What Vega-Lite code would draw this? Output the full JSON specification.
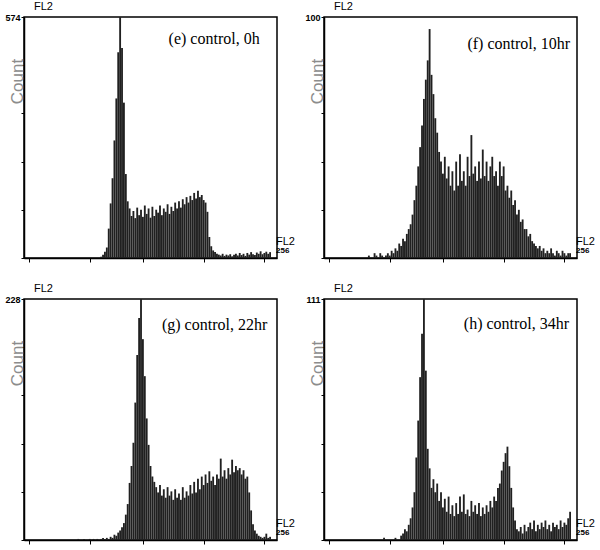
{
  "$schema": "https://vega.github.io/schema/vega-lite/v6.json",
  "background": "white",
  "padding": {"left": 4, "top": 0, "right": 3, "bottom": 0},
  "datasets": {
    "e": [
      {"c":76,"n":3},{"c":78,"n":8},{"c":80,"n":15},{"c":82,"n":25},{"c":84,"n":70},{"c":86,"n":130},{"c":88,"n":190},{"c":90,"n":280},{"c":92,"n":380},{"c":94,"n":490},{"c":96,"n":574},{"c":98,"n":500},{"c":100,"n":370},{"c":102,"n":200},{"c":104,"n":135},{"c":106,"n":118},{"c":108,"n":100},{"c":110,"n":112},{"c":112,"n":95},{"c":114,"n":120},{"c":116,"n":102},{"c":118,"n":115},{"c":120,"n":98},{"c":122,"n":125},{"c":124,"n":105},{"c":126,"n":118},{"c":128,"n":96},{"c":130,"n":122},{"c":132,"n":100},{"c":134,"n":115},{"c":136,"n":108},{"c":138,"n":125},{"c":140,"n":102},{"c":142,"n":118},{"c":144,"n":110},{"c":146,"n":128},{"c":148,"n":105},{"c":150,"n":122},{"c":152,"n":112},{"c":154,"n":132},{"c":156,"n":118},{"c":158,"n":135},{"c":160,"n":120},{"c":162,"n":140},{"c":164,"n":128},{"c":166,"n":145},{"c":168,"n":132},{"c":170,"n":148},{"c":172,"n":138},{"c":174,"n":155},{"c":176,"n":142},{"c":178,"n":160},{"c":180,"n":145},{"c":182,"n":150},{"c":184,"n":138},{"c":186,"n":132},{"c":188,"n":110},{"c":190,"n":50},{"c":192,"n":28},{"c":194,"n":18},{"c":196,"n":14},{"c":198,"n":10},{"c":200,"n":8},{"c":202,"n":6},{"c":204,"n":10},{"c":206,"n":5},{"c":208,"n":8},{"c":210,"n":6},{"c":212,"n":9},{"c":214,"n":4},{"c":216,"n":8},{"c":218,"n":10},{"c":220,"n":6},{"c":222,"n":12},{"c":224,"n":7},{"c":226,"n":10},{"c":228,"n":5},{"c":230,"n":12},{"c":232,"n":8},{"c":234,"n":14},{"c":236,"n":9},{"c":238,"n":7},{"c":240,"n":13},{"c":242,"n":10},{"c":244,"n":16},{"c":246,"n":9},{"c":248,"n":12},{"c":250,"n":15},{"c":252,"n":10},{"c":254,"n":14}
    ],
    "f": [
      {"c":42,"n":1},{"c":48,"n":2},{"c":50,"n":1},{"c":54,"n":2},{"c":56,"n":1},{"c":60,"n":1},{"c":62,"n":2},{"c":64,"n":1},{"c":66,"n":3},{"c":68,"n":2},{"c":70,"n":4},{"c":72,"n":3},{"c":74,"n":6},{"c":76,"n":5},{"c":78,"n":8},{"c":80,"n":7},{"c":82,"n":10},{"c":84,"n":12},{"c":86,"n":14},{"c":88,"n":18},{"c":90,"n":24},{"c":92,"n":30},{"c":94,"n":38},{"c":96,"n":46},{"c":98,"n":55},{"c":100,"n":66},{"c":102,"n":74},{"c":104,"n":82},{"c":106,"n":95},{"c":108,"n":76},{"c":110,"n":68},{"c":112,"n":58},{"c":114,"n":52},{"c":116,"n":44},{"c":118,"n":40},{"c":120,"n":35},{"c":122,"n":42},{"c":124,"n":33},{"c":126,"n":38},{"c":128,"n":30},{"c":130,"n":36},{"c":132,"n":28},{"c":134,"n":40},{"c":136,"n":30},{"c":138,"n":43},{"c":140,"n":32},{"c":142,"n":36},{"c":144,"n":30},{"c":146,"n":42},{"c":148,"n":34},{"c":150,"n":51},{"c":152,"n":35},{"c":154,"n":38},{"c":156,"n":32},{"c":158,"n":40},{"c":160,"n":33},{"c":162,"n":45},{"c":164,"n":34},{"c":166,"n":40},{"c":168,"n":32},{"c":170,"n":38},{"c":172,"n":42},{"c":174,"n":34},{"c":176,"n":36},{"c":178,"n":30},{"c":180,"n":40},{"c":182,"n":34},{"c":184,"n":38},{"c":186,"n":28},{"c":188,"n":30},{"c":190,"n":25},{"c":192,"n":28},{"c":194,"n":22},{"c":196,"n":24},{"c":198,"n":18},{"c":200,"n":20},{"c":202,"n":15},{"c":204,"n":16},{"c":206,"n":12},{"c":208,"n":12},{"c":210,"n":9},{"c":212,"n":10},{"c":214,"n":7},{"c":216,"n":6},{"c":218,"n":5},{"c":220,"n":4},{"c":222,"n":5},{"c":224,"n":3},{"c":226,"n":4},{"c":228,"n":2},{"c":230,"n":3},{"c":232,"n":2},{"c":234,"n":4},{"c":236,"n":2},{"c":238,"n":1},{"c":240,"n":3},{"c":242,"n":2},{"c":244,"n":1},{"c":246,"n":3},{"c":248,"n":2},{"c":250,"n":1},{"c":252,"n":2},{"c":254,"n":2}
    ],
    "g": [
      {"c":52,"n":1},{"c":58,"n":1},{"c":64,"n":1},{"c":68,"n":1},{"c":72,"n":1},{"c":76,"n":1},{"c":78,"n":2},{"c":80,"n":1},{"c":82,"n":2},{"c":84,"n":1},{"c":86,"n":3},{"c":88,"n":2},{"c":90,"n":5},{"c":92,"n":4},{"c":94,"n":7},{"c":96,"n":9},{"c":98,"n":12},{"c":100,"n":16},{"c":102,"n":24},{"c":104,"n":34},{"c":106,"n":54},{"c":108,"n":70},{"c":110,"n":92},{"c":112,"n":130},{"c":114,"n":175},{"c":116,"n":210},{"c":118,"n":228},{"c":120,"n":190},{"c":122,"n":155},{"c":124,"n":115},{"c":126,"n":90},{"c":128,"n":70},{"c":130,"n":60},{"c":132,"n":55},{"c":134,"n":50},{"c":136,"n":45},{"c":138,"n":52},{"c":140,"n":42},{"c":142,"n":48},{"c":144,"n":40},{"c":146,"n":50},{"c":148,"n":42},{"c":150,"n":46},{"c":152,"n":38},{"c":154,"n":48},{"c":156,"n":40},{"c":158,"n":44},{"c":160,"n":38},{"c":162,"n":50},{"c":164,"n":40},{"c":166,"n":46},{"c":168,"n":42},{"c":170,"n":52},{"c":172,"n":44},{"c":174,"n":55},{"c":176,"n":45},{"c":178,"n":58},{"c":180,"n":48},{"c":182,"n":60},{"c":184,"n":52},{"c":186,"n":62},{"c":188,"n":54},{"c":190,"n":65},{"c":192,"n":56},{"c":194,"n":60},{"c":196,"n":52},{"c":198,"n":62},{"c":200,"n":58},{"c":202,"n":77},{"c":204,"n":60},{"c":206,"n":66},{"c":208,"n":58},{"c":210,"n":68},{"c":212,"n":62},{"c":214,"n":76},{"c":216,"n":64},{"c":218,"n":70},{"c":220,"n":66},{"c":222,"n":68},{"c":224,"n":62},{"c":226,"n":66},{"c":228,"n":58},{"c":230,"n":60},{"c":232,"n":45},{"c":234,"n":28},{"c":236,"n":15},{"c":238,"n":9},{"c":240,"n":6},{"c":242,"n":4},{"c":244,"n":3},{"c":246,"n":2},{"c":248,"n":3},{"c":250,"n":6},{"c":252,"n":2},{"c":254,"n":3}
    ],
    "h": [
      {"c":58,"n":1},{"c":70,"n":1},{"c":76,"n":2},{"c":78,"n":3},{"c":80,"n":5},{"c":82,"n":4},{"c":84,"n":7},{"c":86,"n":10},{"c":88,"n":15},{"c":90,"n":22},{"c":92,"n":38},{"c":94,"n":55},{"c":96,"n":75},{"c":98,"n":95},{"c":100,"n":111},{"c":102,"n":78},{"c":104,"n":42},{"c":106,"n":33},{"c":108,"n":24},{"c":110,"n":28},{"c":112,"n":22},{"c":114,"n":26},{"c":116,"n":18},{"c":118,"n":22},{"c":120,"n":15},{"c":122,"n":19},{"c":124,"n":13},{"c":126,"n":20},{"c":128,"n":12},{"c":130,"n":16},{"c":132,"n":11},{"c":134,"n":17},{"c":136,"n":12},{"c":138,"n":20},{"c":140,"n":13},{"c":142,"n":21},{"c":144,"n":12},{"c":146,"n":14},{"c":148,"n":11},{"c":150,"n":18},{"c":152,"n":13},{"c":154,"n":16},{"c":156,"n":12},{"c":158,"n":17},{"c":160,"n":11},{"c":162,"n":15},{"c":164,"n":12},{"c":166,"n":16},{"c":168,"n":13},{"c":170,"n":18},{"c":172,"n":15},{"c":174,"n":20},{"c":176,"n":18},{"c":178,"n":24},{"c":180,"n":26},{"c":182,"n":32},{"c":184,"n":36},{"c":186,"n":40},{"c":188,"n":43},{"c":190,"n":34},{"c":192,"n":24},{"c":194,"n":15},{"c":196,"n":9},{"c":198,"n":5},{"c":200,"n":4},{"c":202,"n":6},{"c":204,"n":3},{"c":206,"n":7},{"c":208,"n":4},{"c":210,"n":6},{"c":212,"n":8},{"c":214,"n":5},{"c":216,"n":9},{"c":218,"n":4},{"c":220,"n":7},{"c":222,"n":5},{"c":224,"n":8},{"c":226,"n":6},{"c":228,"n":9},{"c":230,"n":5},{"c":232,"n":7},{"c":234,"n":4},{"c":236,"n":8},{"c":238,"n":6},{"c":240,"n":7},{"c":242,"n":5},{"c":244,"n":9},{"c":246,"n":6},{"c":248,"n":8},{"c":250,"n":7},{"c":252,"n":10},{"c":254,"n":13}
    ]
  },
  "columns": 2,
  "spacing": {"row": 41, "column": 47},
  "bounds": "flush",
  "concat": [
    {
      "width": 253, "height": 241,
      "title": {"text": "FL2", "anchor": "start", "frame": "group", "dx": 10, "offset": 1},
      "layer": [
        {
          "data": {"name": "e"},
          "mark": {"type": "bar", "size": 1.85, "color": "#202020"},
          "encoding": {
            "x": {"field": "c", "type": "quantitative", "scale": {"domain": [0, 256], "nice": false},
              "axis": {"title": null, "values": [0,8,16,24,32,40,48,56,64,72,80,88,96,100,104,112,120,128,136,144,152,160,168,176,184,192,200,208,216,224,232,240,248,256],
                "tickSize": {"condition": {"test": "datum.value == 100 || datum.value == 200", "value": 7}, "value": 4}}},
            "y": {"field": "n", "type": "quantitative", "scale": {"domain": [0, 574], "nice": false},
              "axis": {"title": "Count", "values": [0,57.4,114.8,172.2,229.6,287,344.4,401.8,459.2,516.6,574],
                "labelExpr": "datum.value == 574 ? '574' : ''",
                "tickSize": {"condition": {"test": "datum.value == 287", "value": 5}, "value": 3}}}
          }
        },
        {
          "data": {"values": [{}]},
          "mark": {"type": "text", "font": "Liberation Serif", "fontSize": 16, "align": "right", "baseline": "middle", "color": "black"},
          "encoding": {"x": {"datum": 243}, "y": {"datum": 522}, "text": {"value": "(e) control, 0h"}}
        },
        {
          "data": {"values": [{}]},
          "mark": {"type": "text", "font": "Liberation Sans", "fontSize": 11, "align": "left", "baseline": "bottom", "dx": 4, "dy": -11, "color": "black"},
          "encoding": {"x": {"datum": 256}, "y": {"datum": 0}, "text": {"value": "FL2"}}
        },
        {
          "data": {"values": [{}]},
          "mark": {"type": "text", "font": "Liberation Sans", "fontSize": 8, "fontWeight": "bold", "align": "left", "baseline": "bottom", "dx": 4, "dy": -3, "color": "black"},
          "encoding": {"x": {"datum": 256}, "y": {"datum": 0}, "text": {"value": "256"}}
        }
      ]
    },
    {
      "width": 253, "height": 241,
      "title": {"text": "FL2", "anchor": "start", "frame": "group", "dx": 10, "offset": 1},
      "layer": [
        {
          "data": {"name": "f"},
          "mark": {"type": "bar", "size": 1.85, "color": "#202020"},
          "encoding": {
            "x": {"field": "c", "type": "quantitative", "scale": {"domain": [0, 256], "nice": false},
              "axis": {"title": null, "values": [0,8,16,24,32,40,48,56,64,72,80,88,96,100,104,112,120,128,136,144,152,160,168,176,184,192,200,208,216,224,232,240,248,256],
                "tickSize": {"condition": {"test": "datum.value == 100 || datum.value == 200", "value": 7}, "value": 4}}},
            "y": {"field": "n", "type": "quantitative", "scale": {"domain": [0, 100], "nice": false},
              "axis": {"title": "Count", "values": [0,10,20,30,40,50,60,70,80,90,100],
                "labelExpr": "datum.value == 100 ? '100' : ''",
                "tickSize": {"condition": {"test": "datum.value == 50", "value": 5}, "value": 3}}}
          }
        },
        {
          "data": {"values": [{}]},
          "mark": {"type": "text", "font": "Liberation Serif", "fontSize": 16, "align": "right", "baseline": "middle", "color": "black"},
          "encoding": {"x": {"datum": 254}, "y": {"datum": 89}, "text": {"value": "(f) control, 10hr"}}
        },
        {
          "data": {"values": [{}]},
          "mark": {"type": "text", "font": "Liberation Sans", "fontSize": 11, "align": "left", "baseline": "bottom", "dx": 4, "dy": -11, "color": "black"},
          "encoding": {"x": {"datum": 256}, "y": {"datum": 0}, "text": {"value": "FL2"}}
        },
        {
          "data": {"values": [{}]},
          "mark": {"type": "text", "font": "Liberation Sans", "fontSize": 8, "fontWeight": "bold", "align": "left", "baseline": "bottom", "dx": 4, "dy": -3, "color": "black"},
          "encoding": {"x": {"datum": 256}, "y": {"datum": 0}, "text": {"value": "256"}}
        }
      ]
    },
    {
      "width": 253, "height": 241,
      "title": {"text": "FL2", "anchor": "start", "frame": "group", "dx": 10, "offset": 1},
      "layer": [
        {
          "data": {"name": "g"},
          "mark": {"type": "bar", "size": 1.85, "color": "#202020"},
          "encoding": {
            "x": {"field": "c", "type": "quantitative", "scale": {"domain": [0, 256], "nice": false},
              "axis": {"title": null, "values": [0,8,16,24,32,40,48,56,64,72,80,88,96,100,104,112,120,128,136,144,152,160,168,176,184,192,200,208,216,224,232,240,248,256],
                "tickSize": {"condition": {"test": "datum.value == 100 || datum.value == 200", "value": 7}, "value": 4}}},
            "y": {"field": "n", "type": "quantitative", "scale": {"domain": [0, 228], "nice": false},
              "axis": {"title": "Count", "values": [0,22.8,45.6,68.4,91.2,114,136.8,159.6,182.4,205.2,228],
                "labelExpr": "datum.value == 228 ? '228' : ''",
                "tickSize": {"condition": {"test": "datum.value == 114", "value": 5}, "value": 3}}}
          }
        },
        {
          "data": {"values": [{}]},
          "mark": {"type": "text", "font": "Liberation Serif", "fontSize": 16, "align": "right", "baseline": "middle", "color": "black"},
          "encoding": {"x": {"datum": 251}, "y": {"datum": 203}, "text": {"value": "(g) control, 22hr"}}
        },
        {
          "data": {"values": [{}]},
          "mark": {"type": "text", "font": "Liberation Sans", "fontSize": 11, "align": "left", "baseline": "bottom", "dx": 4, "dy": -11, "color": "black"},
          "encoding": {"x": {"datum": 256}, "y": {"datum": 0}, "text": {"value": "FL2"}}
        },
        {
          "data": {"values": [{}]},
          "mark": {"type": "text", "font": "Liberation Sans", "fontSize": 8, "fontWeight": "bold", "align": "left", "baseline": "bottom", "dx": 4, "dy": -3, "color": "black"},
          "encoding": {"x": {"datum": 256}, "y": {"datum": 0}, "text": {"value": "256"}}
        }
      ]
    },
    {
      "width": 253, "height": 241,
      "title": {"text": "FL2", "anchor": "start", "frame": "group", "dx": 10, "offset": 1},
      "layer": [
        {
          "data": {"name": "h"},
          "mark": {"type": "bar", "size": 1.85, "color": "#202020"},
          "encoding": {
            "x": {"field": "c", "type": "quantitative", "scale": {"domain": [0, 256], "nice": false},
              "axis": {"title": null, "values": [0,8,16,24,32,40,48,56,64,72,80,88,96,100,104,112,120,128,136,144,152,160,168,176,184,192,200,208,216,224,232,240,248,256],
                "tickSize": {"condition": {"test": "datum.value == 100 || datum.value == 200", "value": 7}, "value": 4}}},
            "y": {"field": "n", "type": "quantitative", "scale": {"domain": [0, 111], "nice": false},
              "axis": {"title": "Count", "values": [0,11.1,22.2,33.3,44.4,55.5,66.6,77.7,88.8,99.9,111],
                "labelExpr": "datum.value == 111 ? '111' : ''",
                "tickSize": {"condition": {"test": "datum.value == 55.5", "value": 5}, "value": 3}}}
          }
        },
        {
          "data": {"values": [{}]},
          "mark": {"type": "text", "font": "Liberation Serif", "fontSize": 16, "align": "right", "baseline": "middle", "color": "black"},
          "encoding": {"x": {"datum": 253}, "y": {"datum": 99.5}, "text": {"value": "(h) control, 34hr"}}
        },
        {
          "data": {"values": [{}]},
          "mark": {"type": "text", "font": "Liberation Sans", "fontSize": 11, "align": "left", "baseline": "bottom", "dx": 4, "dy": -11, "color": "black"},
          "encoding": {"x": {"datum": 256}, "y": {"datum": 0}, "text": {"value": "FL2"}}
        },
        {
          "data": {"values": [{}]},
          "mark": {"type": "text", "font": "Liberation Sans", "fontSize": 8, "fontWeight": "bold", "align": "left", "baseline": "bottom", "dx": 4, "dy": -3, "color": "black"},
          "encoding": {"x": {"datum": 256}, "y": {"datum": 0}, "text": {"value": "256"}}
        }
      ]
    }
  ],
  "config": {
    "view": {"stroke": "black", "strokeWidth": 1.5},
    "title": {"font": "Liberation Sans", "fontSize": 11, "fontWeight": "normal", "color": "black"},
    "axis": {"grid": false, "domainColor": "black", "domainWidth": 1.5, "tickColor": "black", "tickWidth": 1, "labelFont": "Liberation Sans", "labelColor": "black"},
    "axisX": {"labels": false},
    "axisY": {"labelFontSize": 9, "labelFontWeight": "bold", "labelPadding": 1, "labelBaseline": "middle", "titleFont": "Liberation Sans", "titleFontSize": 17, "titleFontWeight": "normal", "titleColor": "#8c8c8c", "titleAngle": -90, "titleX": -7, "titleY": 64, "titleAlign": "center", "titleBaseline": "middle"}
  }
}
